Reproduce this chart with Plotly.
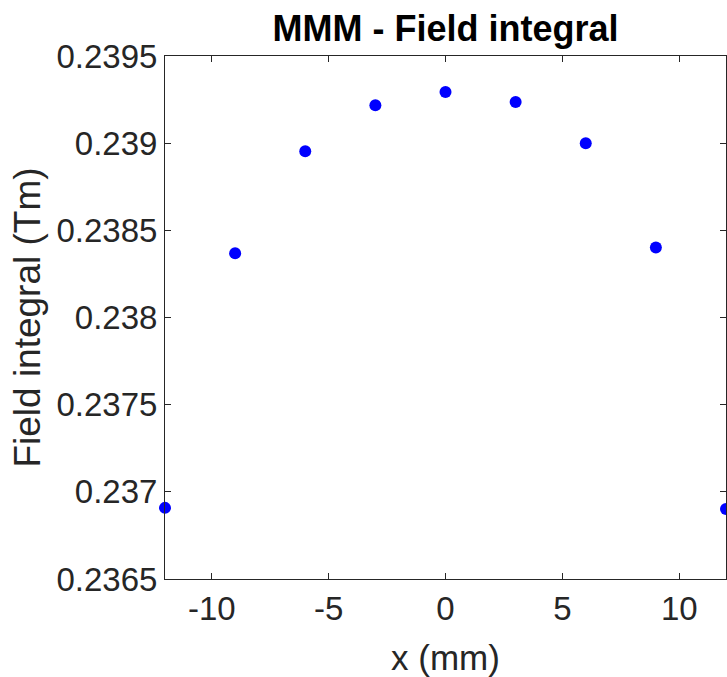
import plotly.graph_objects as go

x_mm = [-12, -9, -6, -3, 0, 3, 6, 9, 12]
field_integral = [0.236908, 0.238368, 0.238954, 0.239218, 0.239293, 0.239236, 0.239000, 0.238402, 0.236902]

x_ticks = [-10, -5, 0, 5, 10]
x_tick_text = ["-10", "-5", "0", "5", "10"]
y_ticks = [0.2365, 0.237, 0.2375, 0.238, 0.2385, 0.239, 0.2395]
y_tick_text = ["0.2365", "0.237", "0.2375", "0.238", "0.2385", "0.239", "0.2395"]

axis_color = "#262626"
font_family = "Liberation Sans, Arial, Helvetica, sans-serif"

fig = go.Figure()
fig.add_trace(go.Scatter(
    x=x_mm, y=field_integral, mode="markers",
    marker=dict(color="#0000FF", size=12, line=dict(width=0)),
    cliponaxis=False, showlegend=False,
))

axis_common = dict(
    showline=True, linecolor=axis_color, linewidth=1, mirror="ticks",
    ticks="inside", ticklen=6, tickcolor=axis_color, tickwidth=1,
    showgrid=False, zeroline=False,
    tickfont=dict(family=font_family, size=33, color=axis_color),
)

fig.update_layout(
    width=727, height=677,
    margin=dict(l=165, r=1, t=56, b=98),
    paper_bgcolor="white", plot_bgcolor="white",
    title=dict(text="<b>MMM - Field integral</b>", x=0.6128, xanchor="center",
               y=0.958, yanchor="middle",
               font=dict(family=font_family, size=36, color="black")),
    xaxis=dict(range=[-12, 12], tickvals=x_ticks, ticktext=x_tick_text,
               title=dict(text="x (mm)", standoff=20,
                          font=dict(family=font_family, size=35, color=axis_color)),
               **axis_common),
    yaxis=dict(range=[0.2365, 0.2395], tickvals=y_ticks, ticktext=y_tick_text,
               title=dict(text="Field integral (Tm)", standoff=4,
                          font=dict(family=font_family, size=37, color=axis_color)),
               **axis_common),
)

fig.write_html("out.html")
